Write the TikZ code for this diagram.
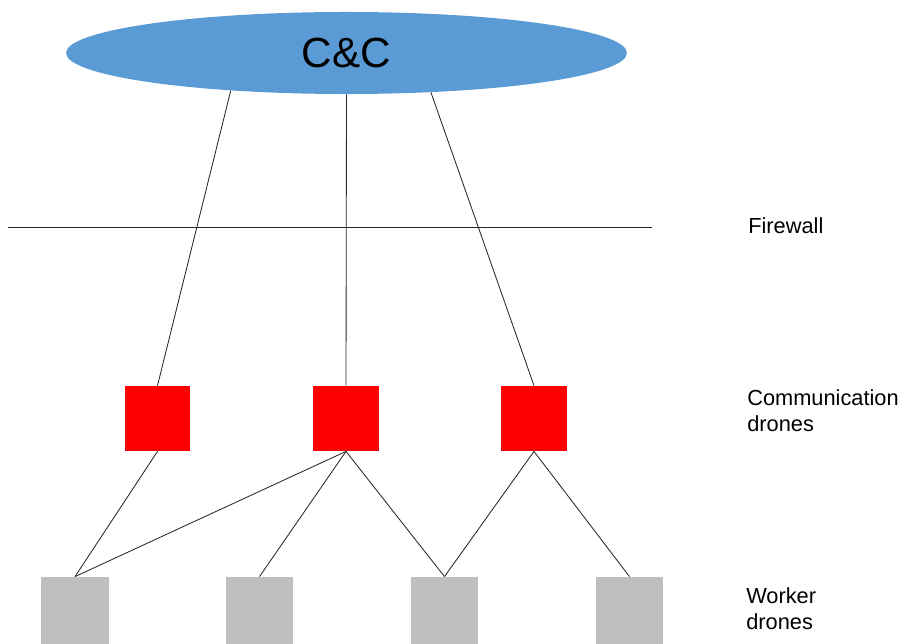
\documentclass[tikz,border=0pt]{standalone}
\usepackage{fontspec}
\setmainfont{Liberation Sans}
\usepackage{xcolor}
\usetikzlibrary{shapes.geometric}
\definecolor{ccblue}{HTML}{5B9BD5}
\definecolor{workgray}{HTML}{BFBFBF}

\begin{document}
\begin{tikzpicture}[x=0.025cm,y=-0.025cm,
  cchub/.style={ellipse,fill=ccblue,inner sep=0pt,minimum width=14.02cm,minimum height=2.05cm,font=\fontsize{30}{36}\selectfont},
  commdrone/.style={fill=red,minimum width=1.63cm,minimum height=1.63cm,inner sep=0pt},
  workdrone/.style={fill=workgray,minimum width=1.68cm,minimum height=1.68cm,inner sep=0pt},
  link/.style={draw=black!85,line width=0.6pt},
  tierlabel/.style={anchor=west,align=left,inner sep=0pt,font=\fontsize{15.5}{18.4}\selectfont}
]
  \useasboundingbox (0,0) rectangle (904,644);

  \node[cchub] (cc) at (346.5,53) {C\&C};

  \coordinate (fwL) at (8,227);
  \coordinate (fwR) at (652,227);
  \draw[link] (fwL) -- (fwR);

  \node[commdrone] (c1) at (157.5,418.5) {};
  \node[commdrone] (c2) at (346,418.5) {};
  \node[commdrone] (c3) at (534,418.5) {};

  \node[workdrone] (w1) at (75,610.5) {};
  \node[workdrone] (w2) at (259.5,610.5) {};
  \node[workdrone] (w3) at (444.5,610.5) {};
  \node[workdrone] (w4) at (629.5,610.5) {};

  \draw[link] (cc.198) -- (c1.north);
  \draw[link] (cc.south) -- (c2.north);
  \draw[link] (cc.335.5) -- (c3.north);

  \draw[link] (c1.south) -- (w1.north);
  \draw[link] (c2.south) -- (w1.north);
  \draw[link] (c2.south) -- (w2.north);
  \draw[link] (c2.south) -- (w3.north);
  \draw[link] (c3.south) -- (w3.north);
  \draw[link] (c3.south) -- (w4.north);

  \node[tierlabel] (fwlabel) at (748,226) {Firewall};
  \node[tierlabel] (commlabel) at (747,411) {Communication\\drones};
  \node[tierlabel] (worklabel) at (746,609) {Worker\\drones};
\end{tikzpicture}
\end{document}
